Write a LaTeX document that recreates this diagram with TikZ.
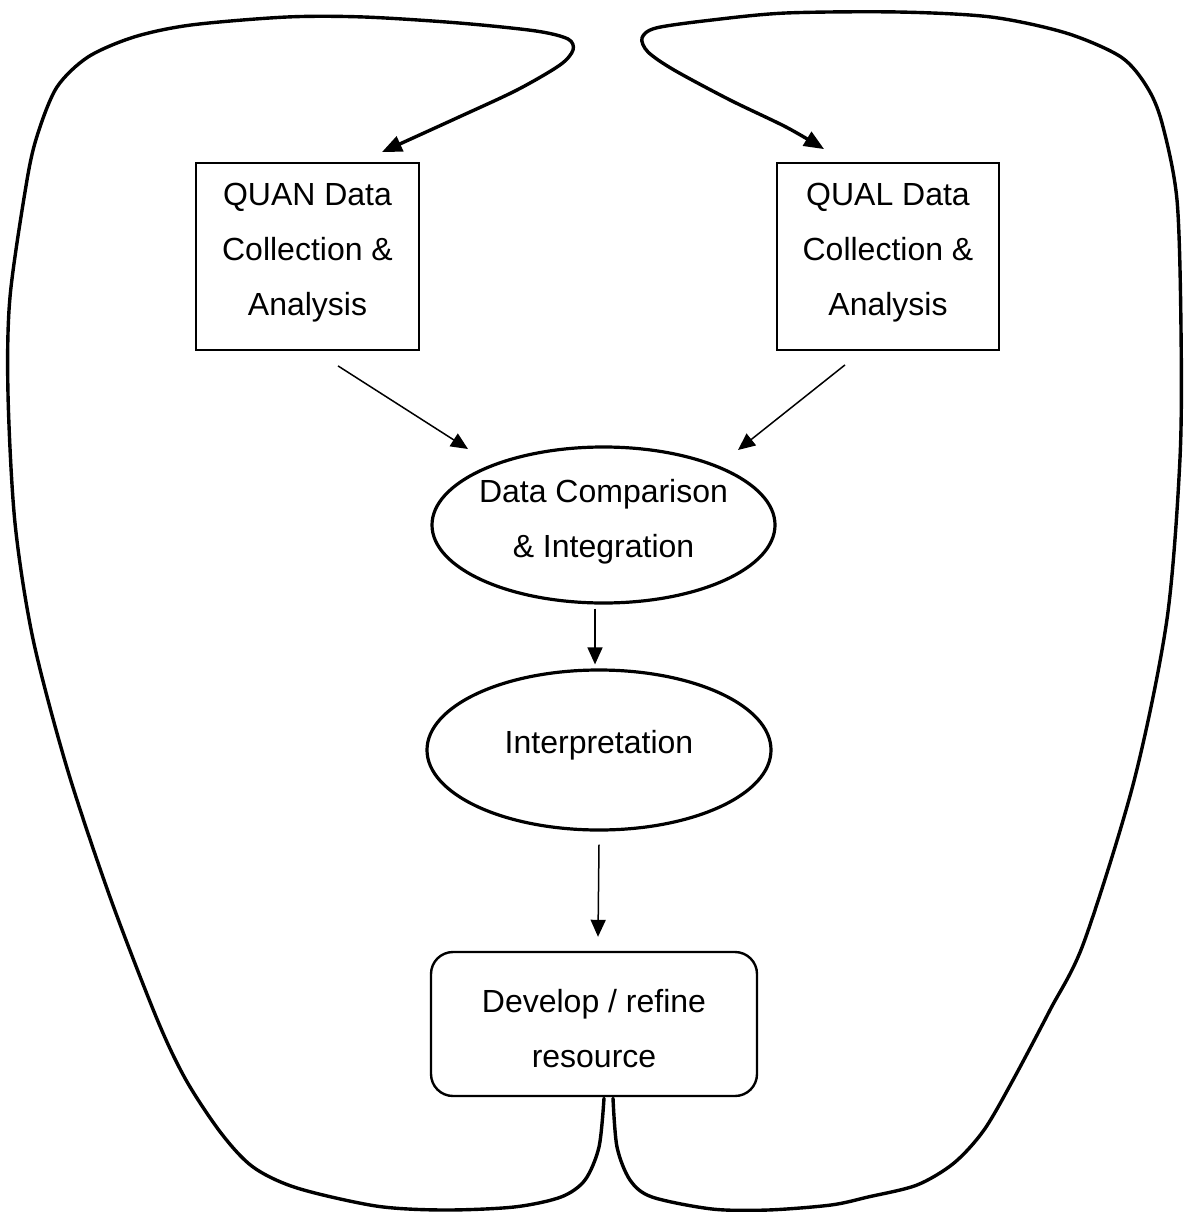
\documentclass[tikz,border=0pt]{standalone}
\usepackage{fontspec}
\setmainfont{Liberation Sans}
\usetikzlibrary{shapes.geometric,arrows.meta,calc}
\begin{document}
\begin{tikzpicture}[x=1pt,y=-1pt,
  font=\fontsize{32}{55}\selectfont,
  box/.style={draw, line width=1.8pt, minimum width=223pt, minimum height=187pt, align=center, inner sep=0pt, text height=133pt, text depth=16pt},
  oval/.style={draw, ellipse, line width=3.2pt, inner sep=0pt, align=center},
  rbox/.style={draw, rounded corners=22pt, line width=2.4pt, inner sep=0pt, align=center},
  thinarrow/.style={line width=1.5pt, -{Triangle[length=17pt,width=15pt]}},
  looparrow/.style={line width=3.4pt, line cap=round, line join=round, -{Triangle[length=20pt,width=16pt]}}]
\useasboundingbox (0,0) rectangle (1184,1212);

\node[box] (quan) at (307.5,256.5) {QUAN Data\\Collection \&\\Analysis};
\node[box, minimum width=222pt] (qual) at (888,256.5) {QUAL Data\\Collection \&\\Analysis};
\node[oval, inner xsep=-4pt, minimum width=343pt, minimum height=156pt, text height=78pt, text depth=14pt] (comp) at (603.5,525) {Data Comparison\\\& Integration};
\node[oval, minimum width=344pt, minimum height=160pt, text height=23pt, text depth=17pt] (interp) at (599,750) {Interpretation};
\node[rbox, minimum width=326pt, minimum height=144pt, text height=86pt, text depth=0pt] (dev) at (594,1024) {Develop / refine\\resource};

\coordinate (a1) at ($(quan.south)+(30.5,15)$);
\coordinate (a1e) at ($(comp.center)+(-135.5,-76)$);
\coordinate (a2) at ($(qual.south)+(-43,14)$);
\coordinate (a2e) at ($(comp.center)+(134.5,-75)$);
\coordinate (a3) at ($(comp.south)+(-8.5,4)$);
\coordinate (a3e) at ($(interp.north)+(-4,-4)$);
\coordinate (a4) at ($(interp.south)+(0,13)$);
\coordinate (a4e) at ($(dev.north)+(4,-14)$);

\draw[thinarrow] (a1) -- (a1e);
\draw[thinarrow] (a2) -- (a2e);
\draw[thinarrow] (a3) -- (a3e);
\draw[thinarrow] (a4) -- (a4e);

\coordinate (ls) at ($(dev.south)+(10,1)$);
\coordinate (rs) at ($(dev.south)+(19,1)$);
\coordinate (lt) at ($(quan.north east)+(-38,-10)$);
\coordinate (rt) at ($(qual.north west)+(48,-13)$);

\draw[looparrow] plot[smooth, tension=0.5] coordinates {(ls) (599,1147) (585,1180) (561,1197) (514,1207) (443,1210) (376,1206) (297,1188) (253,1167) (221,1133) (186,1080) (157,1019) (110,897) (67,768) (33,639) (15,523) (8,394) (10,297) (27,180) (38,133) (57,87) (88,57) (134,37) (191,25) (287,17) (364,17) (459,23) (536,31) (568,39) (573,50) (560,65) (517,90) (459,117) (lt)};

\draw[looparrow] plot[smooth, tension=0.5] coordinates {(rs) (617,1147) (630,1180) (652,1197) (712,1209) (768,1210) (831,1205) (868,1197) (917,1185) (954,1163) (984,1130) (1013,1080) (1050,1010) (1084,942) (1134,781) (1167,619) (1180,458) (1181,330) (1177,200) (1162,123) (1147,87) (1121,57) (1066,33) (991,17) (898,12) (786,13) (712,20) (656,28) (642,38) (648,52) (674,70) (730,100) (786,127) (rt)};
\end{tikzpicture}
\end{document}
